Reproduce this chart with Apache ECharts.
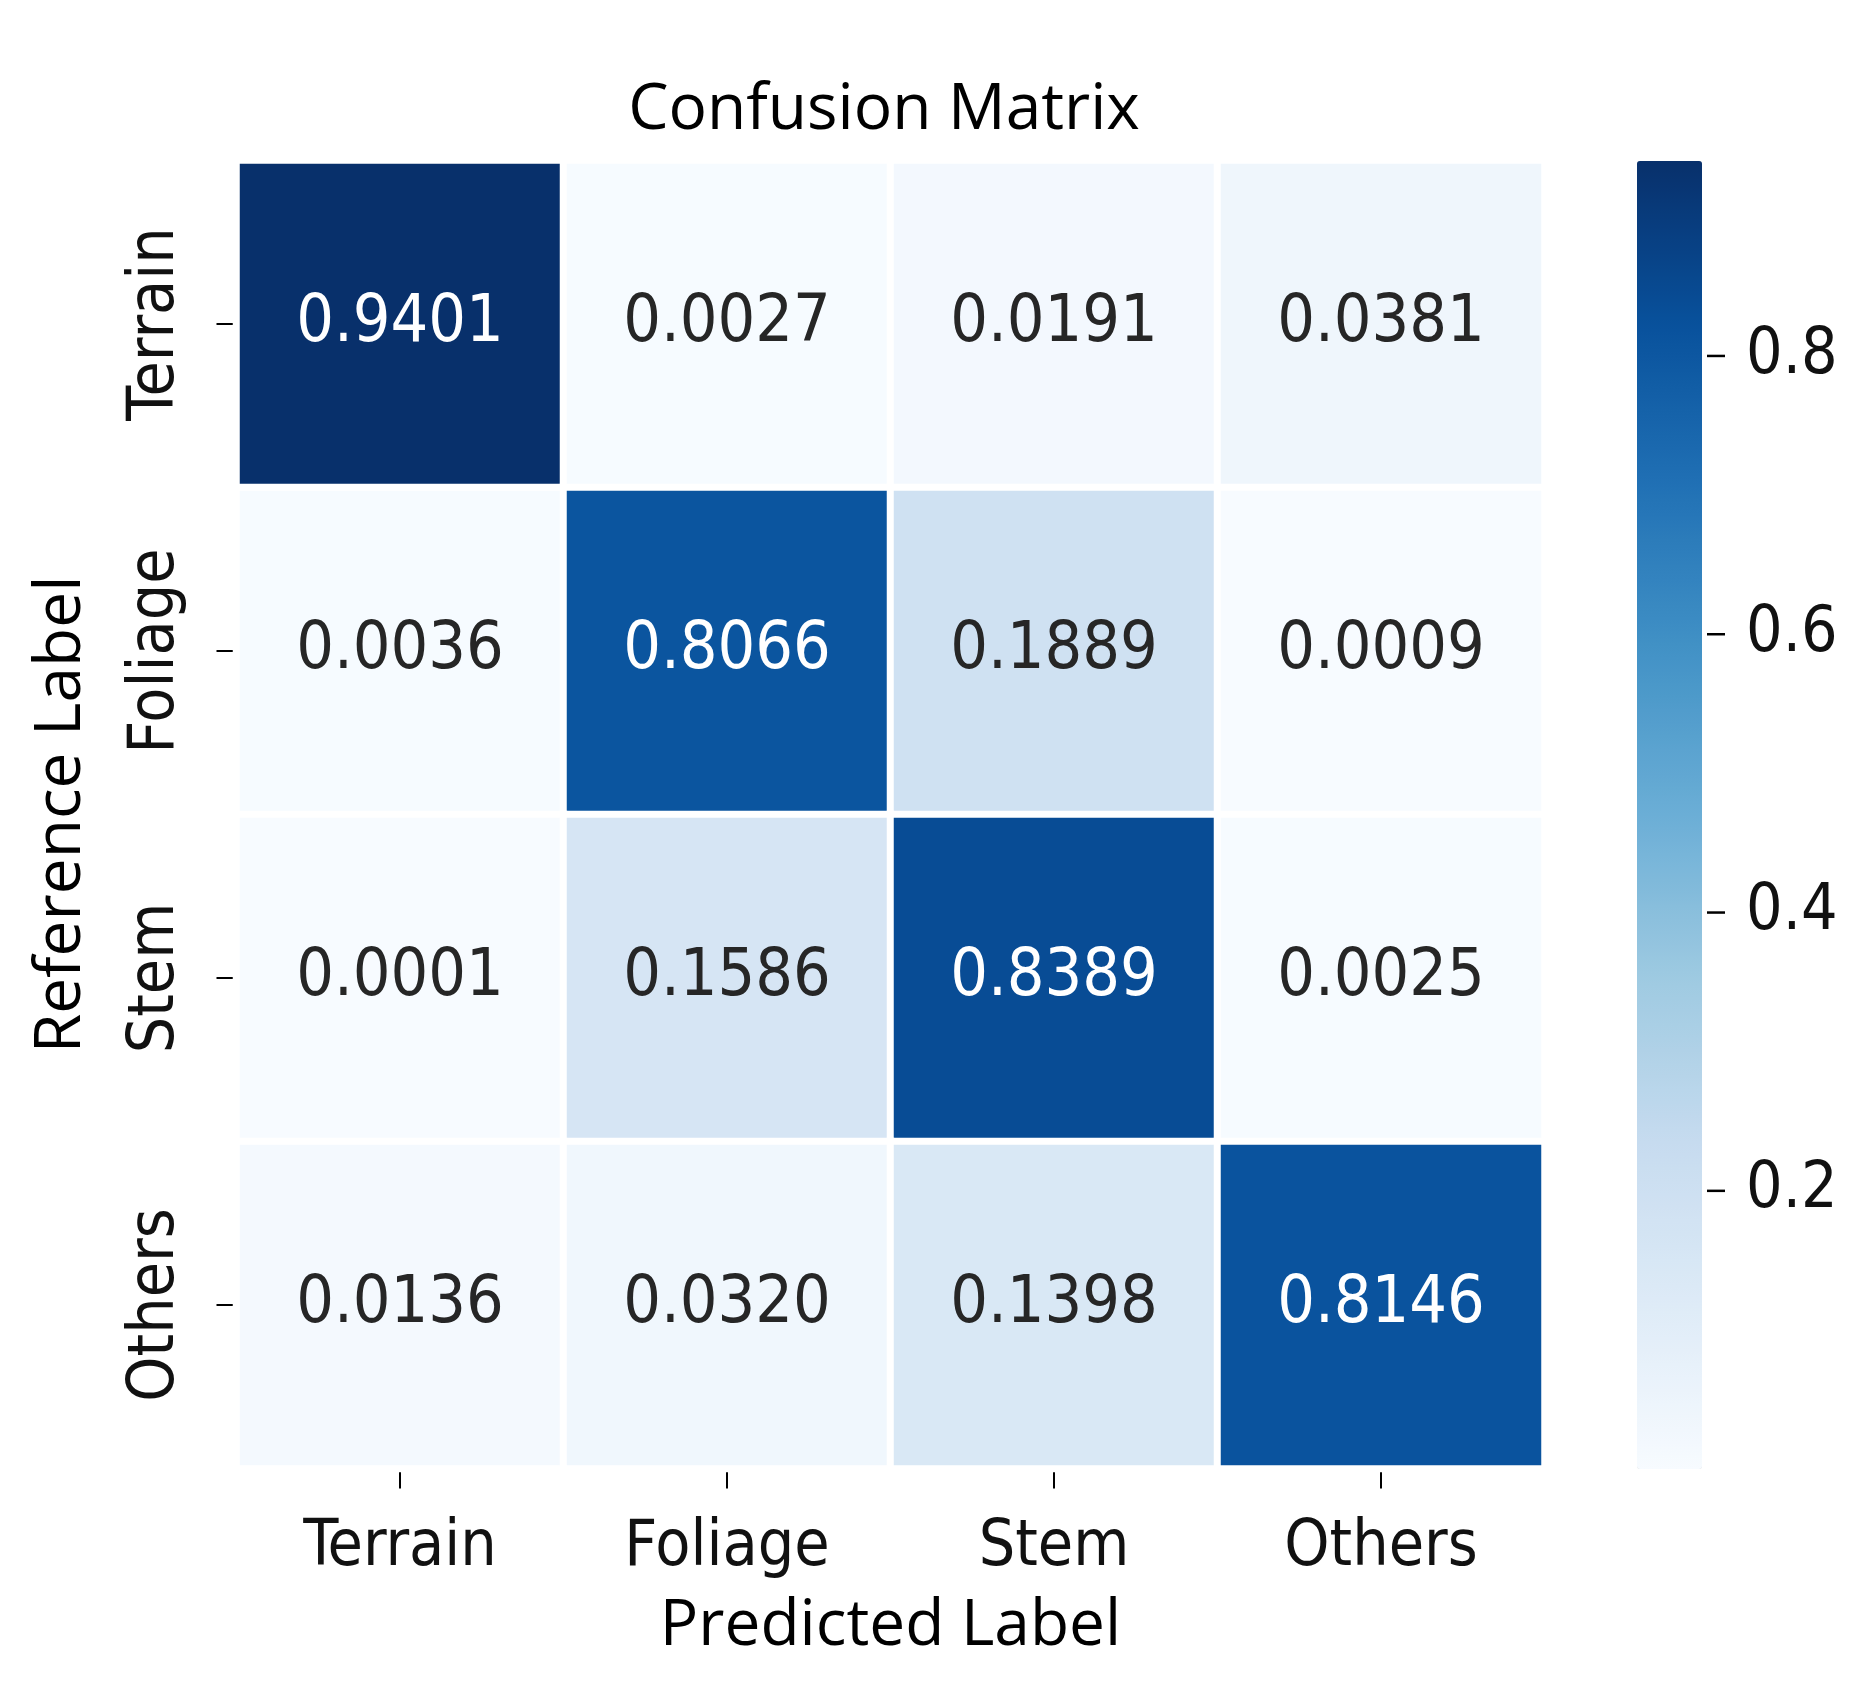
<!DOCTYPE html>
<html>
<head>
<meta charset="utf-8">
<script src="https://cdn.jsdelivr.net/npm/echarts@6/dist/echarts.min.js"></script>
<style>
html,body{margin:0;padding:0;background:#fff;}
#chart{width:1863px;height:1685px;}
</style>
</head>
<body>
<div id="chart"></div>
<script>
// ---- data ----
const predictedLabels = ['Terrain', 'Foliage', 'Stem', 'Others'];
const referenceLabels = ['Terrain', 'Foliage', 'Stem', 'Others'];
const rowTerrain = [0.9401, 0.0027, 0.0191, 0.0381];
const rowFoliage = [0.0036, 0.8066, 0.1889, 0.0009];
const rowStem    = [0.0001, 0.1586, 0.8389, 0.0025];
const rowOthers  = [0.0136, 0.0320, 0.1398, 0.8146];
const colorbarTicks = [0.2, 0.4, 0.6, 0.8];
const valueMin = 0.0001;
const valueMax = 0.9401;

const rows = [rowTerrain, rowFoliage, rowStem, rowOthers];
const blues = ['#f7fbff','#deebf7','#c6dbef','#9ecae1','#6baed6','#4292c6','#2171b5','#08519c','#08306b'];

const heatData = [];
rows.forEach((row, r) => {
  row.forEach((v, c) => {
    const t = (v - valueMin) / (valueMax - valueMin);
    heatData.push({
      value: [c, r, v],
      label: { color: t > 0.5 ? '#ffffff' : '#262626' }
    });
  });
});

const tickFont = "'DejaVu Sans Condensed', 'DejaVu Sans', sans-serif";
const nameFont = "'Open Sans', sans-serif";
const cbTop = 161;

const chart = echarts.init(document.getElementById('chart'), null, {renderer: 'canvas'});
chart.setOption({
  backgroundColor: '#ffffff',
  animation: false,
  title: {
    text: 'Confusion Matrix',
    left: 879,
    textAlign: 'center',
    top: 74,
    textStyle: { fontFamily: nameFont, fontSize: 64, fontWeight: 'normal', color: '#000' }
  },
  grid: [
    { left: 236.5, top: 160.5, width: 1308, height: 1308 },
    { left: 1637, top: cbTop, width: 65, height: 1308 }
  ],
  xAxis: [
    {
      type: 'category', gridIndex: 0, data: predictedLabels, position: 'bottom',
      name: 'Predicted Label', nameLocation: 'middle', nameGap: 126,
      nameTextStyle: { fontFamily: nameFont, fontSize: 64, color: '#000' },
      axisLine: { show: false },
      axisTick: { show: true, alignWithLabel: true, length: 20, lineStyle: { color: '#000', width: 2 } },
      axisLabel: { fontFamily: tickFont, fontSize: 64, color: '#111', margin: 48 },
      splitLine: { show: false }, splitArea: { show: false }
    },
    { type: 'value', gridIndex: 1, show: false, min: 0, max: 1 }
  ],
  yAxis: [
    {
      type: 'category', gridIndex: 0, data: referenceLabels, inverse: true,
      name: 'Reference Label', nameLocation: 'middle', nameGap: 143, nameRotate: 90,
      nameTextStyle: { fontFamily: nameFont, fontSize: 64, color: '#000' },
      axisLine: { show: false },
      axisTick: { show: true, alignWithLabel: true, length: 20, lineStyle: { color: '#000', width: 2 } },
      axisLabel: { fontFamily: tickFont, fontSize: 64, color: '#111', rotate: 90, margin: 48 },
      splitLine: { show: false }, splitArea: { show: false }
    },
    {
      type: 'value', gridIndex: 1, min: valueMin, max: valueMax, position: 'right',
      axisLine: { show: false },
      splitLine: { show: false },
      axisTick: { show: false },
      axisLabel: { customValues: colorbarTicks, fontFamily: tickFont, fontSize: 64, color: '#111', margin: 44,
        padding: [18, 0, 0, 0],
        formatter: v => v.toFixed(1) }
    }
  ],
  visualMap: {
    type: 'continuous',
    min: valueMin, max: valueMax,
    seriesIndex: 0,
    calculable: false,
    hoverLink: false,
    realtime: false,
    orient: 'vertical',
    left: 1637, top: cbTop,
    padding: 0,
    itemWidth: 65, itemHeight: 1308,
    text: ['', ''],
    textGap: 0,
    showLabel: false,
    inRange: { color: blues }
  },
  series: [
    {
      type: 'heatmap', xAxisIndex: 0, yAxisIndex: 0,
      data: heatData,
      itemStyle: { borderColor: '#ffffff', borderWidth: 7 },
      label: { show: true, fontFamily: tickFont, fontSize: 66,
        formatter: p => p.value[2].toFixed(4) },
      emphasis: { disabled: true }
    },
    {
      // colorbar tick marks, placed through the colorbar axis scale
      type: 'custom', xAxisIndex: 1, yAxisIndex: 1, silent: true,
      data: colorbarTicks.map(v => [1, v]),
      renderItem: (params, api) => {
        const p = api.coord([api.value(0), api.value(1)]);
        return {
          type: 'line',
          shape: { x1: p[0] + 5, y1: p[1], x2: p[0] + 23, y2: p[1] },
          style: { stroke: '#000', lineWidth: 2.5 }
        };
      }
    }
  ]
});
</script>
</body>
</html>
